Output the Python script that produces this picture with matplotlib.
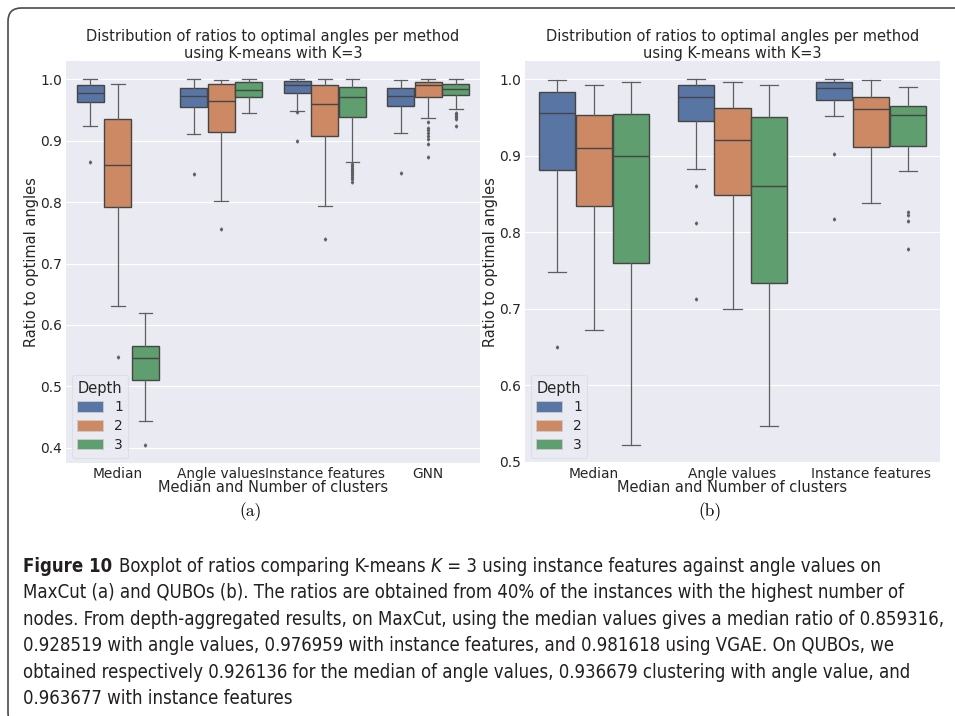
import matplotlib
matplotlib.use("Agg")
import matplotlib.pyplot as plt
from matplotlib import font_manager
from matplotlib.patches import FancyBboxPatch, Patch

W, H = 955, 716

depths = ["1", "2", "3"]
depth_colors = ["#5975a4", "#cc8963", "#5f9e6e"]
edge_gray = "#454545"
whisk_gray = "#5e5e5e"

# (a) MaxCut -- one row per method, one value per depth
maxcut_methods = ["Median", "Angle values", "Instance features", "GNN"]
maxcut_whislo = [[0.924, 0.631, 0.444], [0.911, 0.802, 0.945], [0.949, 0.793, 0.866], [0.913, 0.937, 0.951]]
maxcut_q1 = [[0.963, 0.792, 0.511], [0.955, 0.914, 0.971], [0.978, 0.908, 0.938], [0.957, 0.971, 0.975]]
maxcut_med = [[0.977, 0.861, 0.546], [0.972, 0.964, 0.983], [0.990, 0.959, 0.971], [0.9735, 0.991, 0.984]]
maxcut_q3 = [[0.991, 0.936, 0.565], [0.986, 0.993, 0.995], [0.998, 0.990, 0.987], [0.986, 0.996, 0.992]]
maxcut_whishi = [[1.000, 0.993, 0.619], [1.000, 0.999, 1.000], [1.000, 1.000, 1.000], [0.999, 1.000, 1.000]]
maxcut_fliers = [
    [[0.865], [0.548], [0.405]],
    [[0.846], [0.756], []],
    [[0.946, 0.899], [0.740], [0.862, 0.859, 0.856, 0.853, 0.850, 0.847, 0.844, 0.841, 0.837, 0.833]],
    [[0.848], [0.930, 0.921, 0.917, 0.913, 0.908, 0.903, 0.894, 0.873], [0.945, 0.943, 0.941, 0.939, 0.936, 0.924]],
]

# (b) QUBOs
qubo_methods = ["Median", "Angle values", "Instance features"]
qubo_whislo = [[0.748, 0.6715, 0.522], [0.882, 0.700, 0.546], [0.9525, 0.838, 0.8805]]
qubo_q1 = [[0.881, 0.834, 0.760], [0.946, 0.849, 0.733], [0.973, 0.912, 0.913]]
qubo_med = [[0.956, 0.910, 0.899], [0.977, 0.920, 0.861], [0.989, 0.961, 0.953]]
qubo_q3 = [[0.984, 0.953, 0.954], [0.993, 0.962, 0.951], [0.9965, 0.977, 0.965]]
qubo_whishi = [[0.999, 0.993, 0.997], [1.000, 0.996, 0.992], [1.000, 0.999, 0.990]]
qubo_fliers = [
    [[0.650], [], []],
    [[0.861, 0.812, 0.712], [], []],
    [[0.902, 0.817], [], [0.826, 0.823, 0.815, 0.778]],
]

title = "Distribution of ratios to optimal angles per method\nusing K-means with K=3"
xlabel = "Median and Number of clusters"
ylabel = "Ratio to optimal angles"

caption_lines = [
    "MaxCut (a) and QUBOs (b). The ratios are obtained from 40% of the instances with the highest number of",
    "nodes. From depth-aggregated results, on MaxCut, using the median values gives a median ratio of 0.859316,",
    "0.928519 with angle values, 0.976959 with instance features, and 0.981618 using VGAE. On QUBOs, we",
    "obtained respectively 0.926136 for the median of angle values, 0.936679 clustering with angle value, and",
    "0.963677 with instance features",
]

fig = plt.figure(figsize=(W / 100, H / 100), dpi=100)


def px_axes(x0, y0, x1, y1):
    return fig.add_axes([x0 / W, 1 - y1 / H, (x1 - x0) / W, (y1 - y0) / H])


def draw_panel(ax, methods, whislo, q1, med, q3, whishi, fliers):
    width = 0.8 / len(depths)
    for j, color in enumerate(depth_colors):
        stats = []
        for i in range(len(methods)):
            stats.append(dict(whislo=whislo[i][j], q1=q1[i][j], med=med[i][j], q3=q3[i][j],
                              whishi=whishi[i][j], fliers=fliers[i][j]))
        pos = [i + (j - 1) * width for i in range(len(methods))]
        ax.bxp(stats, positions=pos, widths=width * 0.98, patch_artist=True, manage_ticks=False,
               boxprops=dict(facecolor=color, edgecolor=edge_gray, linewidth=1.0),
               medianprops=dict(color=edge_gray, linewidth=1.0),
               whiskerprops=dict(color=whisk_gray, linewidth=0.9),
               capprops=dict(color=whisk_gray, linewidth=0.9),
               flierprops=dict(marker="d", markersize=1.6, markerfacecolor=whisk_gray,
                               markeredgecolor=whisk_gray, linestyle="none"))
    ax.set_xlim(-0.5, len(methods) - 0.5)
    ax.set_xticks(range(len(methods)))
    ax.set_xticklabels(methods)
    ax.set_facecolor("#eaeaf2")
    ax.grid(axis="y", color="white", linewidth=0.8)
    ax.set_axisbelow(True)
    for s in ax.spines.values():
        s.set_visible(False)
    ax.tick_params(length=0, labelsize=9.9, labelcolor="#262626")
    ax.tick_params(axis="y", pad=3)
    ax.tick_params(axis="x", pad=3)
    ax.set_title(title, fontsize=10.5, color="#262626", pad=1.0, linespacing=1.15)
    ax.set_xlabel(xlabel, fontsize=10.5, color="#262626", labelpad=-1)
    ax.set_ylabel(ylabel, fontsize=10.5, color="#262626", labelpad=1)
    handles = [Patch(facecolor=c, edgecolor="#cccccc", linewidth=0.6) for c in depth_colors]
    leg = ax.legend(handles, depths, title="Depth", loc="lower left", fontsize=9.9,
                    title_fontsize=10.5, frameon=True, facecolor="#eaeaf2", edgecolor="#dcdce4",
                    handlelength=1.9, handleheight=0.8, borderaxespad=0.4, labelspacing=0.35,
                    handletextpad=0.8, borderpad=0.4)
    leg.get_frame().set_linewidth(0.8)
    leg.get_title().set_color("#262626")
    for t in leg.get_texts():
        t.set_color("#262626")


ax1 = px_axes(66, 61, 480, 463)
draw_panel(ax1, maxcut_methods, maxcut_whislo, maxcut_q1, maxcut_med, maxcut_q3, maxcut_whishi, maxcut_fliers)
ax2 = px_axes(525, 61, 940, 463)
draw_panel(ax2, qubo_methods, qubo_whislo, qubo_q1, qubo_med, qubo_q3, qubo_whishi, qubo_fliers)

# panel letters
fig.text(251 / W, 1 - 512 / H, "(a)", family="cmr10", fontsize=12.5, ha="center", va="center")
fig.text(710 / W, 1 - 512 / H, "(b)", family="cmr10", fontsize=12.5, ha="center", va="center")

# frame around the figure (right and bottom run off the page)
frame = FancyBboxPatch((8 / W, -10 / H), 1000 / W, 718 / H, boxstyle="round,pad=0,rounding_size=0.014",
                       transform=fig.transFigure, facecolor="none", edgecolor="#4a4a4a",
                       linewidth=1.2, clip_on=False, mutation_aspect=W / H)
fig.patches.append(frame)

# caption: prefer a condensed sans if one is installed
cap_family, cap_stretch = "Liberation Sans", "normal"
for f in font_manager.fontManager.ttflist:
    if ("Narrow" in f.name or "Condensed" in f.name or f.stretch in ("condensed", "semi-condensed")) \
            and "Mono" not in f.name and "Serif" not in f.name:
        cap_family, cap_stretch = f.name, f.stretch
        break

cap_color = "#231f20"
x0 = 23
baselines = [572, 598.4, 625, 651.2, 677.6, 704]
renderer = fig.canvas.get_renderer()


def put(x, y, s, size, **kw):
    t = fig.text(x / W, 1 - y / H, s, family=cap_family, stretch=cap_stretch, fontsize=size,
                 color=cap_color, va="baseline", ha="left", **kw)
    return t, x + t.get_window_extent(renderer).width


# size the caption so the longest line spans the same width as in the figure
probe, end = put(x0, baselines[2], caption_lines[1], 13.0)
cap_size = 13.0 * 922 / (end - x0)
probe.remove()

t, x = put(x0, baselines[0], "Figure 10", cap_size, weight="bold")
t, x = put(x + 7, baselines[0], "Boxplot of ratios comparing K-means ", cap_size)
t, x = put(x, baselines[0], "K", cap_size, style="italic")
put(x, baselines[0], " = 3 using instance features against angle values on", cap_size)
for y, line in zip(baselines[1:], caption_lines):
    put(x0, y, line, cap_size)

fig.savefig("out.png", dpi=100)
